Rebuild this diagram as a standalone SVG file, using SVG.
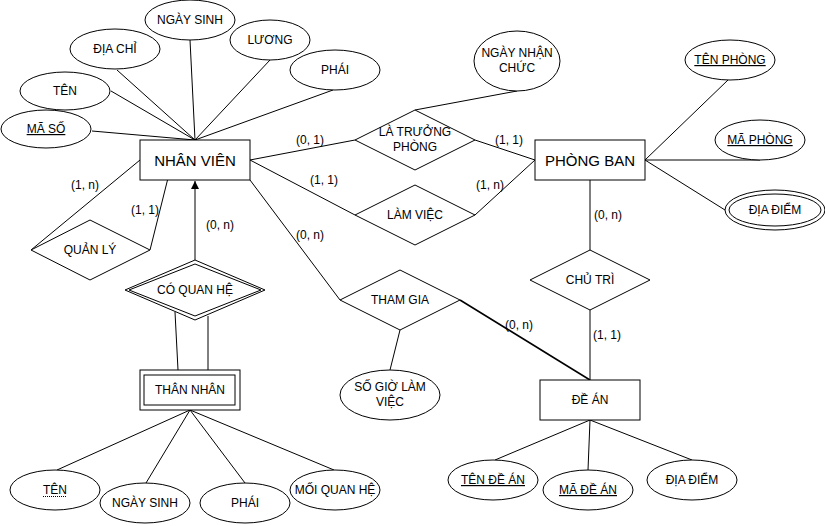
<svg xmlns="http://www.w3.org/2000/svg" width="825" height="526" viewBox="0 0 825 526">
<style>
.s{fill:#fff;stroke:#000;stroke-width:1}
.l{stroke:#000;stroke-width:1;fill:none}
text{font-family:"Liberation Sans",Arial,sans-serif;font-size:12px;fill:#000;text-anchor:middle}
.e{font-size:15px}
.u{text-decoration:underline}
</style>
<defs>
<marker id="arr" markerWidth="10" markerHeight="10" refX="8" refY="4" orient="auto" markerUnits="userSpaceOnUse">
<path d="M0,0 L8,4 L0,8 Z" fill="#000"/>
</marker>
</defs>
<rect width="825" height="526" fill="#fff"/>
<g id="connectors">
<line class="l" x1="92" y1="131" x2="195" y2="140"/>
<line class="l" x1="111" y1="91" x2="195" y2="140"/>
<line class="l" x1="117" y1="70" x2="195" y2="140"/>
<line class="l" x1="190" y1="40" x2="195" y2="140"/>
<line class="l" x1="270" y1="60" x2="195" y2="140"/>
<line class="l" x1="333" y1="90" x2="195" y2="140"/>
<line class="l" x1="250" y1="160" x2="355" y2="140"/>
<line class="l" x1="475" y1="140" x2="535" y2="160"/>
<line class="l" x1="415" y1="110" x2="517" y2="91"/>
<line class="l" x1="250" y1="160" x2="355" y2="215"/>
<line class="l" x1="475" y1="215" x2="535" y2="160"/>
<line class="l" x1="645" y1="160" x2="728" y2="80"/>
<line class="l" x1="645" y1="160" x2="760" y2="160"/>
<line class="l" x1="645" y1="160" x2="725" y2="210"/>
<line class="l" x1="140" y1="160" x2="31" y2="250"/>
<line class="l" x1="150" y1="250" x2="167.5" y2="180"/>
<line class="l" x1="195" y1="260" x2="195" y2="181" marker-end="url(#arr)"/>
<line class="l" x1="175" y1="312" x2="178" y2="370"/>
<line class="l" x1="208" y1="316" x2="208" y2="370"/>
<line class="l" x1="190" y1="410" x2="57" y2="470"/>
<line class="l" x1="190" y1="410" x2="146" y2="483"/>
<line class="l" x1="190" y1="410" x2="245" y2="483"/>
<line class="l" x1="190" y1="410" x2="334" y2="470"/>
<line class="l" x1="250" y1="180" x2="340" y2="300"/>
<line class="l" x1="460" y1="300" x2="590" y2="380" style="stroke-width:1.6"/>
<line class="l" x1="400" y1="330" x2="390" y2="370"/>
<line class="l" x1="590" y1="180" x2="590" y2="250"/>
<line class="l" x1="590" y1="310" x2="590" y2="380"/>
<line class="l" x1="590" y1="420" x2="495" y2="460"/>
<line class="l" x1="590" y1="420" x2="588" y2="470"/>
<line class="l" x1="590" y1="420" x2="692" y2="460"/>
<text x="310" y="144">(0, 1)</text>
<text x="509" y="144">(1, 1)</text>
<text x="324" y="184">(1, 1)</text>
<text x="490" y="189">(1, n)</text>
<text x="310" y="239">(0, n)</text>
<text x="85" y="189">(1, n)</text>
<text x="145" y="214">(1, 1)</text>
<text x="220" y="229">(0, n)</text>
<text x="519" y="329">(0, n)</text>
<text x="607" y="339">(1, 1)</text>
<text x="608" y="219">(0, n)</text>
</g>
<g id="nhan-vien"><rect class="s" x="140" y="140" width="110" height="40"/><text class="e" x="195" y="165.5">NHÂN VIÊN</text></g>
<g id="ma-so"><ellipse class="s" cx="46" cy="129" rx="45" ry="19"/><text class="u" x="46" y="133">MÃ SỐ</text></g>
<g id="ten"><ellipse class="s" cx="65" cy="91" rx="45" ry="19"/><text x="65" y="95">TÊN</text></g>
<g id="dia-chi"><ellipse class="s" cx="115" cy="49" rx="45" ry="20"/><text x="115" y="53">ĐỊA CHỈ</text></g>
<g id="ngay-sinh"><ellipse class="s" cx="190" cy="20" rx="45" ry="20"/><text x="190" y="24">NGÀY SINH</text></g>
<g id="luong"><ellipse class="s" cx="270" cy="40" rx="40" ry="20"/><text x="270" y="44">LƯƠNG</text></g>
<g id="phai"><ellipse class="s" cx="335" cy="70" rx="45" ry="20"/><text x="335" y="74">PHÁI</text></g>
<g id="la-truong-phong"><polygon class="s" points="355,140 415,110 475,140 415,170"/><text x="415" y="136">LÀ TRƯỞNG</text><text x="415" y="151">PHÒNG</text></g>
<g id="ngay-nhan-chuc"><ellipse class="s" cx="517" cy="61" rx="43" ry="30"/><text x="517" y="57">NGÀY NHẬN</text><text x="517" y="72">CHỨC</text></g>
<g id="phong-ban"><rect class="s" x="535" y="140" width="110" height="40"/><text class="e" x="590" y="165.5">PHÒNG BAN</text></g>
<g id="ten-phong"><ellipse class="s" cx="730" cy="60" rx="45" ry="20"/><text class="u" x="730" y="64">TÊN PHÒNG</text></g>
<g id="ma-phong"><ellipse class="s" cx="760" cy="140" rx="45" ry="20"/><text class="u" x="760" y="144">MÃ PHÒNG</text></g>
<g id="dia-diem-pb"><ellipse class="s" cx="775" cy="210" rx="50" ry="20"/><ellipse class="s" cx="775" cy="210" rx="46" ry="16"/><text x="775" y="214">ĐỊA ĐIỂM</text></g>
<g id="lam-viec"><polygon class="s" points="355,215 415,185 475,215 415,245"/><text x="415" y="219">LÀM VIỆC</text></g>
<g id="quan-ly"><polygon class="s" points="31,250 90,220 150,250 90,280"/><text x="90" y="254">QUẢN LÝ</text></g>
<g id="co-quan-he"><polygon class="s" points="125,290 195,260 265,290 195,320"/><polygon class="s" points="129,290 195,264 261,290 195,316"/><text x="195" y="294">CÓ QUAN HỆ</text></g>
<g id="than-nhan"><rect class="s" x="140" y="370" width="100" height="40"/><rect class="s" x="144" y="375" width="91" height="30"/><text x="190" y="394">THÂN NHÂN</text></g>
<g id="ten-tn"><ellipse class="s" cx="55" cy="490" rx="45" ry="20"/><text x="55" y="494">TÊN</text><line x1="43" y1="496.5" x2="67" y2="496.5" stroke="#000" stroke-width="1" stroke-dasharray="1,1"/></g>
<g id="ngay-sinh-tn"><ellipse class="s" cx="145" cy="503" rx="45" ry="20"/><text x="145" y="507">NGÀY SINH</text></g>
<g id="phai-tn"><ellipse class="s" cx="245" cy="503" rx="45" ry="20"/><text x="245" y="507">PHÁI</text></g>
<g id="moi-quan-he"><ellipse class="s" cx="335" cy="490" rx="45" ry="20"/><text x="335" y="494">MỐI QUAN HỆ</text></g>
<g id="tham-gia"><polygon class="s" points="340,300 400,270 460,300 400,330"/><text x="400" y="304">THAM GIA</text></g>
<g id="so-gio-lam-viec"><ellipse class="s" cx="390" cy="395" rx="50" ry="25"/><text x="390" y="391">SỐ GIỜ LÀM</text><text x="390" y="406">VIỆC</text></g>
<g id="chu-tri"><polygon class="s" points="530,280 590,250 650,280 590,310"/><text x="590" y="284">CHỦ TRÌ</text></g>
<g id="de-an"><rect class="s" x="540" y="380" width="100" height="40"/><text x="590" y="404">ĐỀ ÁN</text></g>
<g id="ten-de-an"><ellipse class="s" cx="493" cy="480" rx="45" ry="20"/><text class="u" x="493" y="484">TÊN ĐỀ ÁN</text></g>
<g id="ma-de-an"><ellipse class="s" cx="588" cy="490" rx="45" ry="20"/><text class="u" x="588" y="494">MÃ ĐỀ ÁN</text></g>
<g id="dia-diem-da"><ellipse class="s" cx="692" cy="480" rx="45" ry="20"/><text x="692" y="484">ĐỊA ĐIỂM</text></g>
</svg>
